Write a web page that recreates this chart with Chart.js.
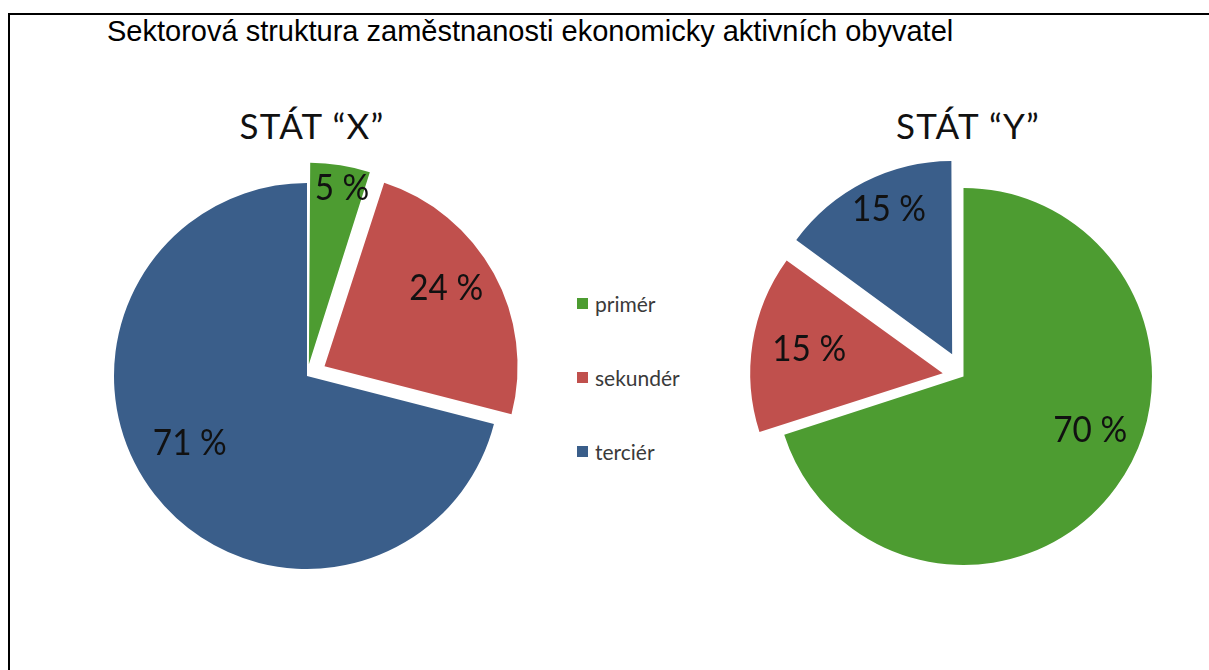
<!DOCTYPE html>
<html>
<head>
<meta charset="utf-8">
<script src="https://cdn.jsdelivr.net/npm/chart.js@4/dist/chart.umd.min.js"></script>
<style>
  html, body { margin: 0; padding: 0; background: #fff; width: 1209px; height: 670px; overflow: hidden; }
  #frame { position: absolute; left: 8px; top: 13px; width: 1210px; height: 700px; border-top: 2px solid #000; border-left: 2px solid #000; }
  #heading { position: absolute; left: 107px; top: 17px; font: 29px/29px "Liberation Sans", Arial, sans-serif; color: #000; white-space: nowrap; }
  .pie-title { position: absolute; top: 108px; width: 300px; text-align: center; font: 35px/35px Lato, sans-serif; letter-spacing: 1.2px; color: #111; }
  canvas { position: absolute; }
  #legend { position: absolute; left: 577px; top: 290px; font: 21px Lato, sans-serif; color: #3a3a3a; }
  .item { display: flex; align-items: center; height: 27px; margin-bottom: 47px; }
  .box { width: 11px; height: 11px; margin-right: 7px; }
</style>
</head>
<body>
<div id="frame"></div>
<div id="heading">Sektorová struktura zaměstnanosti ekonomicky aktivních obyvatel</div>
<div class="pie-title" id="titleX" style="left:162px;"></div>
<div class="pie-title" id="titleY" style="left:818px;"></div>
<canvas id="chartX" width="466" height="466" style="left:74px; top:143px;"></canvas>
<div id="legend"></div>
<canvas id="chartY" width="477" height="477" style="left:725px; top:138px;"></canvas>
<script>
// Data
const categories = ['primér', 'sekundér', 'terciér'];
const stateX = [5, 24, 71];
const stateY = [70, 15, 15];
const chartTitles = ['STÁT “X”', 'STÁT “Y”'];
const colors = ['#4d9c31', '#c0504d', '#3a5e8a'];

// Popisky procent uvnitř výsečí
const pctLabels = {
    id: 'pctLabels',
    afterDatasetsDraw(chart, args, opts) {
        const ctx = chart.ctx;
        const meta = chart.getDatasetMeta(0);
        const values = chart.data.datasets[0].data;
        ctx.save();
        ctx.font = '37px Lato';
        ctx.fillStyle = '#111';
        ctx.textAlign = 'center';
        ctx.textBaseline = 'middle';
        meta.data.forEach((arc, i) => {
            const p = arc.getProps(['x', 'y', 'startAngle', 'endAngle', 'outerRadius']);
            const mid = (p.startAngle + p.endAngle) / 2;
            // Chart.js v4 posouvá výseč o čtvrtinu hodnoty offset
            const off = (arc.options.offset || 0) / 4;
            const cx = p.x + Math.cos(mid) * off;
            const cy = p.y + Math.sin(mid) * off;
            const [f, da] = opts.place[i];
            const a = mid + da * Math.PI / 180;
            const r = p.outerRadius * f;
            ctx.save();
            ctx.translate(cx + Math.cos(a) * r, cy + Math.sin(a) * r);
            ctx.scale(0.9, 1);
            ctx.fillText(values[i] + ' %', 0, 0);
            ctx.restore();
        });
        ctx.restore();
    }
};

function makePie(id, values, offsets, place) {
    return new Chart(document.getElementById(id), {
        type: 'pie',
        data: {
            labels: categories,
            datasets: [{ data: values, backgroundColor: colors, borderWidth: 0, offset: offsets, hoverOffset: 0 }]
        },
        options: {
            responsive: false,
            animation: false,
            events: [],
            layout: { padding: 0 },
            plugins: {
                legend: { display: false },
                tooltip: { enabled: false },
                title: { display: false },
                pctLabels: { place: place }
            }
        },
        plugins: [pctLabels]
    });
}

makePie('chartX', stateX, [48, 80, 0], [[0.93, 1.6], [0.75, -4], [0.70, 8]]);
makePie('chartY', stateY, [0, 84, 100], [[0.73, -13], [0.72, 1.3], [0.84, 3.5]]);

document.getElementById('titleX').textContent = chartTitles[0];
document.getElementById('titleY').textContent = chartTitles[1];

// Legenda
const legend = document.getElementById('legend');
categories.forEach((name, i) => {
    const item = document.createElement('div');
    item.className = 'item';
    item.innerHTML = `<span class="box" style="background:${colors[i]}"></span><span>${name}</span>`;
    legend.appendChild(item);
});
</script>
</body>
</html>
